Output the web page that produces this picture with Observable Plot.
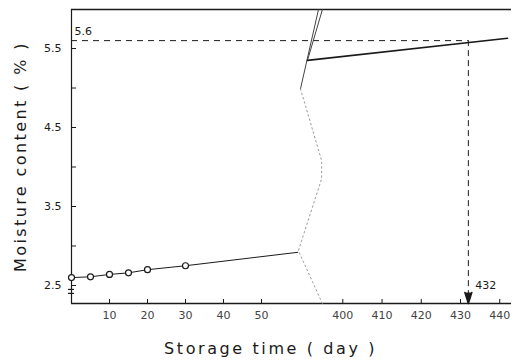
<!DOCTYPE html>
<html><head><meta charset="utf-8">
<script src="https://cdn.jsdelivr.net/npm/d3@7"></script>
<script src="https://cdn.jsdelivr.net/npm/@observablehq/plot@0.6"></script>
<style>
body{margin:0;background:#fff;}
</style></head><body><div id="chart"></div>
<script>
// measured samples (left part of the broken axis)
const sampleDays = [0, 5, 10, 15, 20, 30];
const sampleMoisture = [2.60, 2.61, 2.64, 2.66, 2.70, 2.75];
// fitted lines
const earlyLineDays = [0, 5, 10, 15, 20, 30, 59.5];
const earlyLineMoisture = [2.60, 2.61, 2.64, 2.66, 2.70, 2.75, 2.92];
const lateLineDays = [391, 442];
const lateLineMoisture = [5.35, 5.63];
// critical point
const limitMoisture = 5.6;
const limitDay = 432;
// axes
const xTickDays = [10, 20, 30, 40, 50, 400, 410, 420, 430, 440];
const yMajorTicks = [2.5, 3.5, 4.5, 5.5];
const yMinorTicks = [3.0, 4.0, 5.0];
const xBreakDomain = [0, 60, 391, 443];
const yDomain = [2.272, 5.994];
const yTitle = "Moisture content ( % )";
const xTitle = "Storage time ( day )";
// axis-break glyph (drawn in data units)
const breakUpperADays = [393.8, 101];
const breakUpperAMoisture = [5.994, 4.99];
const breakUpperBDays = [394.8, 391];
const breakUpperBMoisture = [5.994, 5.35];
const breakLowerDays = [101, 394.6, 394.6, 59.7, 394.8];
const breakLowerMoisture = [4.99, 4.08, 3.85, 2.94, 2.272];
const yBreakMarks = [2.45, 2.40];

const zip = (xs, ys) => xs.map((x, i) => ({x, y: ys[i]}));
const ink = "#1a1a1a";

const plot = Plot.plot({
  width: 514, height: 363,
  marginLeft: 71, marginRight: 3, marginTop: 9, marginBottom: 60,
  style: {fontFamily: "DejaVu Sans", fontSize: "11px", color: ink, background: "#fff"},
  x: {type: "linear", domain: xBreakDomain, range: [71, 299, 307, 511], axis: null},
  y: {domain: yDomain, axis: null},
  marks: [
    // frame
    Plot.ruleY([yDomain[0]], {stroke: ink, strokeWidth: 1.4}),
    Plot.ruleY([yDomain[1]], {stroke: ink, strokeWidth: 1.4}),
    Plot.ruleX([0], {stroke: ink, strokeWidth: 1.2}),
    Plot.ruleY(yBreakMarks, {x1: -0.8, x2: 0.8, stroke: ink, strokeWidth: 1.2}),
    // ticks & labels
    Plot.axisX(xTickDays, {tickSize: -4, tickPadding: 12, stroke: ink, fill: "#444", label: null, tickFormat: d => String(d)}),
    Plot.axisY(yMajorTicks, {tickSize: -5, tickPadding: 15, stroke: ink, fill: ink, label: null, tickFormat: d3.format(".1f")}),
    Plot.axisY(yMinorTicks, {tickSize: -5, stroke: ink, label: null, tickFormat: () => ""}),
    // reference lines
    Plot.ruleY([limitMoisture], {x1: 0, x2: limitDay, stroke: ink, strokeWidth: 1, strokeDasharray: "6,5"}),
    Plot.ruleX([limitDay], {y1: limitMoisture, y2: yDomain[0], stroke: ink, strokeWidth: 1, strokeDasharray: "6,4"}),
    Plot.vector([limitDay], {x: d => d, y: yDomain[0], length: 11, rotate: 180, shape: "spike", anchor: "end", r: 3.5, fill: ink, stroke: ink}),
    Plot.text([limitMoisture], {x: 0, y: d => d, text: d => d3.format(".1f")(d), textAnchor: "start", dx: 3, dy: -9, fill: ink}),
    Plot.text([limitDay], {x: d => d, y: yDomain[0], text: d => String(d), textAnchor: "start", dx: 7, dy: -18, fill: ink}),
    // axis break glyph
    Plot.line(zip(breakUpperADays, breakUpperAMoisture), {x: "x", y: "y", stroke: "#444", strokeWidth: 1}),
    Plot.line(zip(breakUpperBDays, breakUpperBMoisture), {x: "x", y: "y", stroke: "#444", strokeWidth: 1}),
    Plot.line(zip(breakLowerDays, breakLowerMoisture), {x: "x", y: "y", stroke: "#999", strokeWidth: 1, strokeDasharray: "1.5,3"}),
    // data
    Plot.line(zip(earlyLineDays, earlyLineMoisture), {x: "x", y: "y", stroke: ink, strokeWidth: 1}),
    Plot.line(zip(lateLineDays, lateLineMoisture), {x: "x", y: "y", stroke: ink, strokeWidth: 1.6}),
    Plot.dot(zip(sampleDays, sampleMoisture), {x: "x", y: "y", r: 3, fill: "#fff", stroke: ink, strokeWidth: 1.2}),
    // titles
    Plot.text([yTitle], {frameAnchor: "left", textAnchor: "middle", dx: -51, rotate: -90, fontSize: 16, fill: ink}),
    Plot.text([xTitle], {frameAnchor: "bottom", textAnchor: "middle", dx: -21, dy: 50, fontSize: 16, fill: ink})
  ]
});
d3.select(plot).selectAll("text").each(function() {
  const t = this.textContent;
  if (t === yTitle) this.style.letterSpacing = "2.4px";
  if (t === xTitle) this.style.letterSpacing = "2.6px";
});
document.getElementById("chart").appendChild(plot);
</script></body></html>
